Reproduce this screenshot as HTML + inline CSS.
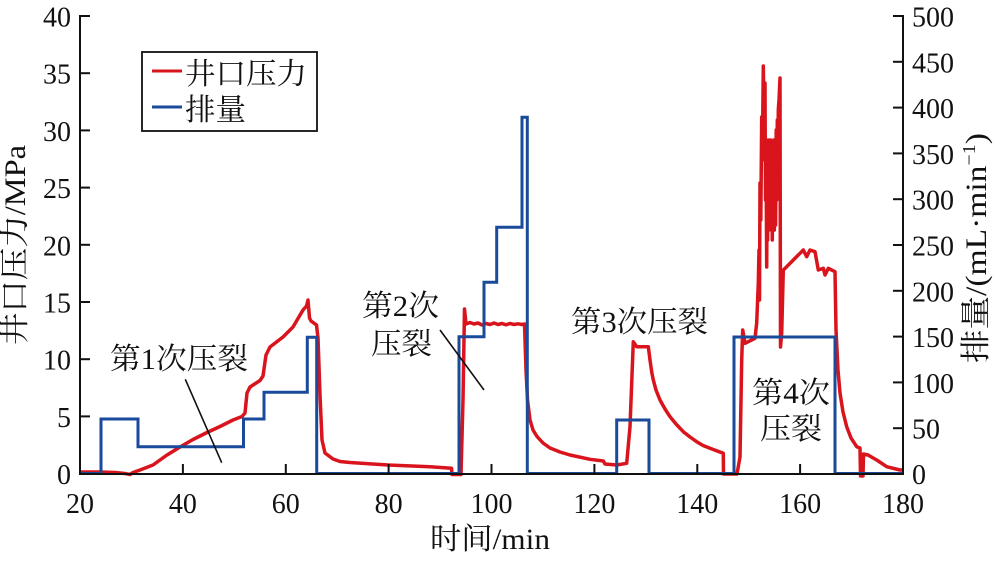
<!DOCTYPE html>
<html>
<head>
<meta charset="utf-8">
<style>
  html, body { margin: 0; padding: 0; background: #ffffff; }
  svg { display: block; }
  .tick { font-family: "Liberation Serif", "Noto Serif CJK SC", serif; font-size: 28px; fill: #111; }
  .cn { font-family: "Liberation Serif", "Noto Serif CJK SC", serif; font-size: 30px; fill: #111; }
</style>
</head>
<body>
<svg width="1000" height="562" viewBox="0 0 1000 562" xmlns="http://www.w3.org/2000/svg">
  <rect x="0" y="0" width="1000" height="562" fill="#ffffff"/>

  <!-- Red pressure series -->
  <path fill="none" stroke="#d9141c" stroke-width="3.5" stroke-linejoin="round" stroke-linecap="butt"
    d="M80,472 L100,472 L115,472.5 L125,473.5 L130,474.5 L133,472.5 L140,470 L153,465 L167,455 L180,447 L193,439.5 L207,432.5 L220,426.5 L233,420 L242,416.5 L245,413 L247,393 L250,387 L260,380.5 L263,376 L266,355 L270,347 L283,337 L293,327 L303,310 L306.5,306 L308,300 L309.5,318 L311,321 L316.5,325 L318,338 L320,395 L322,440 L325,453 L333,459 L340,461.5 L350,462.5 L388,465 L430,466.7 L451.5,468.3 L452,474.5 L461,474.5 L463,400 L464.5,309 L466,324 L470,322.5 L474,324 L478,323 L482,325 L486,323.5 L490,324.5 L494,323 L498,324.5 L502,323.5 L506,324.8 L510,323.5 L514,324.5 L518,323.8 L522,324.5 L524.5,324 L526,370 L527.5,400 L530,420 L533,430 L537,436.5 L543,443 L550,448 L560,452 L570,455 L590,459.3 L603.3,461 L605,464 L616.7,465 L626.7,463.3 L630,426.7 L633.3,341.7 L636.7,346.7 L648.3,346.7 L650,360 L651.7,372 L653.3,380 L656,390 L660,400 L665,409 L670,416.7 L676,424 L683.3,431.7 L690,437 L696.7,441.7 L703,445.5 L710,448.3 L723.3,453.3 L723.5,474 L737,474 L740,457 L741.7,360 L742.7,330 L745,343.3 L755,338.3 L756.7,323 L758.3,283 L759,250 L759.5,300 L760,183 L760.8,220 L761.7,117 L762.3,160 L763.3,66 L764,110 L765,83 L765.5,200 L766,150 L766.7,267 L767.2,170 L767.6,240 L768.3,140 L768.8,230 L769.4,150 L770,225 L770.6,140 L771.2,230 L771.7,160 L772.3,240 L772.8,150 L773.3,220 L773.8,140 L774.4,230 L775,150 L775.6,225 L776.2,130 L776.7,200 L777.3,120 L777.8,180 L778.3,110 L779,100 L780,78 L780.5,347 L781.7,333 L783.3,270 L786.7,266.7 L793.3,260 L800,253.3 L803.3,250 L806.7,256.7 L810,250 L815,251.7 L818.3,270 L823.3,268.3 L825,275 L828.3,268.3 L835,271.7 L836,330 L838,370 L840,393 L843,412 L846.7,426.7 L851,438 L856.7,446.7 L860,448 L860.5,476 L863,476 L863.5,454 L868,455 L876.7,460 L886.7,466.7 L900,470 L903,470"/>

  <!-- Blue flow series -->
  <path fill="none" stroke="#1a4a9a" stroke-width="3" stroke-linejoin="miter"
    d="M80,473.5 L101,473.5 L101,419 L138,419 L138,446.7 L243.5,446.7 L243.5,419 L264,419 L264,392.3 L307.3,392.3 L307.3,337.3 L316.7,337.3 L316.7,473.5 L459,473.5 L459,336.7 L484,336.7 L484,282.3 L496.7,282.3 L496.7,227.3 L522,227.3 L522,117.3 L527.3,117.3 L527.3,473.5 L616.7,473.5 L616.7,420 L649,420 L649,473.5 L734,473.5 L734,337 L835,337 L835,473.5 L903,473.5"/>

  <!-- Axes -->
  <g stroke="#111" stroke-width="2" fill="none">
    <line x1="80" y1="15" x2="80" y2="475"/>
    <line x1="903" y1="15" x2="903" y2="475"/>
    <line x1="79" y1="474" x2="904" y2="474"/>
    <line x1="80" y1="16" x2="90" y2="16"/>
    <line x1="80" y1="73.2" x2="90" y2="73.2"/>
    <line x1="80" y1="130.4" x2="90" y2="130.4"/>
    <line x1="80" y1="187.6" x2="90" y2="187.6"/>
    <line x1="80" y1="244.8" x2="90" y2="244.8"/>
    <line x1="80" y1="302" x2="90" y2="302"/>
    <line x1="80" y1="359.2" x2="90" y2="359.2"/>
    <line x1="80" y1="416.4" x2="90" y2="416.4"/>
    <line x1="893" y1="16" x2="903" y2="16"/>
    <line x1="893" y1="61.8" x2="903" y2="61.8"/>
    <line x1="893" y1="107.6" x2="903" y2="107.6"/>
    <line x1="893" y1="153.4" x2="903" y2="153.4"/>
    <line x1="893" y1="199.2" x2="903" y2="199.2"/>
    <line x1="893" y1="245" x2="903" y2="245"/>
    <line x1="893" y1="290.8" x2="903" y2="290.8"/>
    <line x1="893" y1="336.6" x2="903" y2="336.6"/>
    <line x1="893" y1="382.4" x2="903" y2="382.4"/>
    <line x1="893" y1="428.2" x2="903" y2="428.2"/>
    <line x1="182.9" y1="464" x2="182.9" y2="474"/>
    <line x1="285.8" y1="464" x2="285.8" y2="474"/>
    <line x1="388.6" y1="464" x2="388.6" y2="474"/>
    <line x1="491.5" y1="464" x2="491.5" y2="474"/>
    <line x1="594.4" y1="464" x2="594.4" y2="474"/>
    <line x1="697.3" y1="464" x2="697.3" y2="474"/>
    <line x1="800.1" y1="464" x2="800.1" y2="474"/>
  </g>

  <!-- Left tick labels -->
  <g class="tick" text-anchor="end">
    <text x="71" y="26.5">40</text>
    <text x="71" y="83.7">35</text>
    <text x="71" y="140.9">30</text>
    <text x="71" y="198.1">25</text>
    <text x="71" y="255.3">20</text>
    <text x="71" y="312.5">15</text>
    <text x="71" y="369.7">10</text>
    <text x="71" y="426.9">5</text>
    <text x="71" y="484">0</text>
  </g>

  <!-- Right tick labels -->
  <g class="tick" text-anchor="start">
    <text x="912" y="26.5">500</text>
    <text x="912" y="72.3">450</text>
    <text x="912" y="118.1">400</text>
    <text x="912" y="163.9">350</text>
    <text x="912" y="209.7">300</text>
    <text x="912" y="255.5">250</text>
    <text x="912" y="301.3">200</text>
    <text x="912" y="347.1">150</text>
    <text x="912" y="392.9">100</text>
    <text x="912" y="438.7">50</text>
    <text x="912" y="484">0</text>
  </g>

  <!-- Bottom tick labels -->
  <g class="tick" text-anchor="middle">
    <text x="80" y="513">20</text>
    <text x="182.9" y="513">40</text>
    <text x="285.8" y="513">60</text>
    <text x="388.6" y="513">80</text>
    <text x="491.5" y="513">100</text>
    <text x="594.4" y="513">120</text>
    <text x="697.3" y="513">140</text>
    <text x="800.1" y="513">160</text>
    <text x="903" y="513">180</text>
  </g>

  <!-- Axis titles -->
  <text class="cn" x="430" y="549" textLength="120" lengthAdjust="spacingAndGlyphs">时间/min</text>
  <text class="cn" transform="translate(25,245) rotate(-90)" text-anchor="middle" textLength="200" lengthAdjust="spacingAndGlyphs">井口压力/MPa</text>
  <text class="cn" transform="translate(986,248) rotate(-90)" text-anchor="middle" textLength="230" lengthAdjust="spacingAndGlyphs">排量/(mL·min<tspan font-size="18" dy="-11">−1</tspan><tspan dy="11">)</tspan></text>

  <!-- Legend -->
  <rect x="142" y="52" width="175" height="79" fill="#ffffff" stroke="#111" stroke-width="1.8"/>
  <line x1="152" y1="71" x2="182" y2="71" stroke="#d9141c" stroke-width="3"/>
  <line x1="152" y1="107" x2="182" y2="107" stroke="#1a4a9a" stroke-width="3"/>
  <text class="cn" x="185" y="84" textLength="122" lengthAdjust="spacingAndGlyphs">井口压力</text>
  <text class="cn" x="185" y="120" textLength="61" lengthAdjust="spacingAndGlyphs">排量</text>

  <!-- Annotations -->
  <text class="cn" x="110" y="369" textLength="138" lengthAdjust="spacingAndGlyphs">第1次压裂</text>
  <line x1="185.3" y1="379.3" x2="221.7" y2="462.7" stroke="#111" stroke-width="1.6"/>

  <text class="cn" x="362" y="316" textLength="77" lengthAdjust="spacingAndGlyphs">第2次</text>
  <text class="cn" x="371" y="354" textLength="61" lengthAdjust="spacingAndGlyphs">压裂</text>
  <line x1="440" y1="330" x2="484" y2="390" stroke="#111" stroke-width="1.6"/>

  <text class="cn" x="571" y="332" textLength="137" lengthAdjust="spacingAndGlyphs">第3次压裂</text>

  <text class="cn" x="752" y="403" textLength="78" lengthAdjust="spacingAndGlyphs">第4次</text>
  <text class="cn" x="760" y="439" textLength="62" lengthAdjust="spacingAndGlyphs">压裂</text>
</svg>
</body>
</html>
